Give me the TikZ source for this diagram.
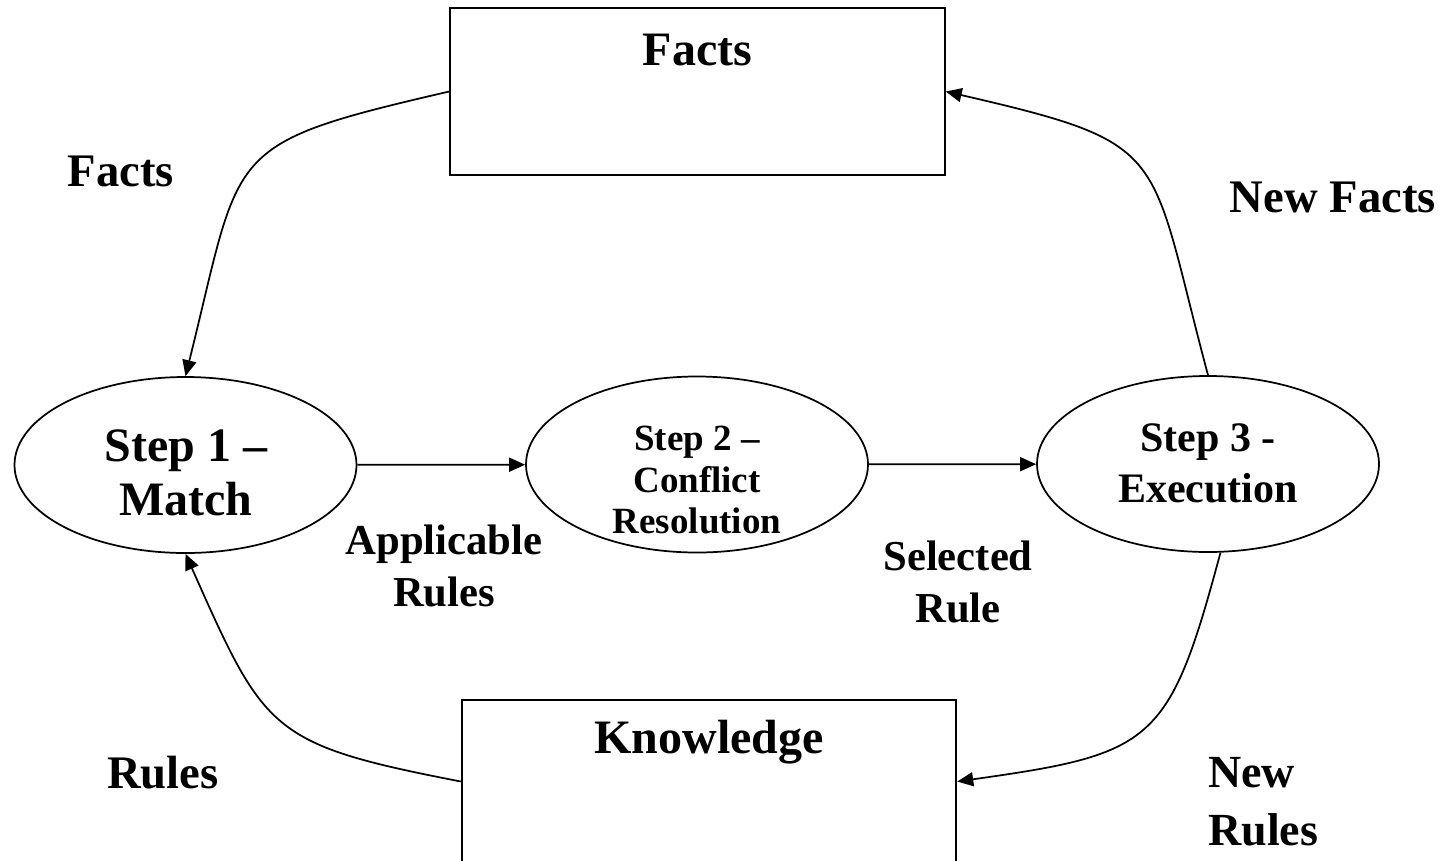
\documentclass[tikz,border=0pt]{standalone}
\usepackage{fontspec}
\setmainfont{Liberation Serif}
\usetikzlibrary{arrows.meta,shapes.geometric}

\newcommand{\txtsize}[2]{\bfseries\fontsize{#1pt}{#2pt}\selectfont}

\tikzset{
  store/.style={draw, line width=1.35pt, inner sep=0pt, minimum width=371pt,
    font=\txtsize{36}{41}},
  stage/.style={draw, ellipse, line width=1.3pt, inner sep=0pt,
    minimum width=256.5pt, minimum height=132pt},
  tag/.style={inner sep=0pt, align=center},
  flow/.style={line width=1.3pt, -{Triangle[length=12pt,width=10.5pt]}}
}

\begin{document}
\begin{tikzpicture}[x=0.75pt,y=0.75pt]
  \useasboundingbox (0,0) rectangle (1445,-860);

  % stores
  \node[store, text height=42.75pt, text depth=82.5pt] (facts) at (697.5,-91.5) {Facts};
  \node[store, text height=39.75pt, text depth=82.5pt] (knowledge) at (709,-781.5) {Knowledge};

  % steps
  \node[stage] (step1) at (185.5,-465) {};
  \node[stage] (step2) at (697,-464.5) {};
  \node[stage] (step3) at (1208,-464) {};
  \node[tag, font=\txtsize{36}{41}]     (step1txt) at (186,-473)  {Step 1 –\\Match};
  \node[tag, font=\txtsize{27.75}{31}]  (step2txt) at (697,-480)  {Step 2 –\\Conflict\\Resolution};
  \node[tag, font=\txtsize{31.5}{38.25}] (step3txt) at (1208,-463) {Step 3 -\\Execution};

  % labels
  \node[tag, font=\txtsize{35}{41}] (factslbl)    at (121,-171)  {Facts};
  \node[tag, font=\txtsize{35}{41}] (newfactslbl) at (1333,-197) {New Facts};
  \node[tag, font=\txtsize{32}{39}] (applbl)      at (444,-566)  {Applicable\\Rules};
  \node[tag, font=\txtsize{32}{39}] (sellbl)      at (958,-582)  {Selected\\Rule};
  \node[tag, font=\txtsize{35}{41}] (ruleslbl)    at (163,-773)  {Rules};
  \node[tag, align=left, anchor=west, font=\txtsize{34.5}{43.5}] (newruleslbl) at (1208,-802) {New\\Rules};

  % connectors
  \draw[flow] (step1) -- (step2);
  \draw[flow] (step2) -- (step3);
  \draw[flow] (facts.west) to[out=193, in=76, looseness=1.55] (step1.north);
  \draw[flow] (step3.north) to[out=105, in=-13, looseness=1.55] (facts.east);
  \draw[flow] (knowledge.west) to[out=169, in=-66, looseness=1.4] (step1.south);
  \draw[flow] (step3.-82) to[out=255, in=8, looseness=1.45] (knowledge.east);
\end{tikzpicture}
\end{document}
